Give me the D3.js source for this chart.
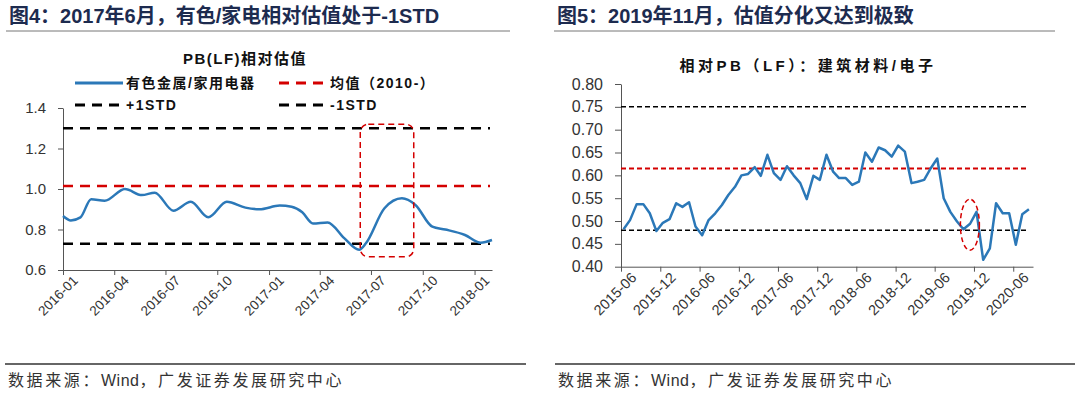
<!DOCTYPE html>
<html lang="zh">
<head>
<meta charset="UTF-8">
<title>相对估值</title>
<script src="https://d3js.org/d3.v7.min.js"></script>
<style>
  body { margin: 0; background: #fff; }
  svg { display: block; font-family: "Liberation Sans", Arial, "Noto Sans CJK SC", sans-serif; }
  .hdr { font-size: 20px; font-weight: bold; fill: #1d2b4f; }
  .foot { font-size: 16px; fill: #333; letter-spacing: 2.6px; font-family: "Noto Sans CJK SC", sans-serif; }
  .foot tspan.en { font-family: "Liberation Sans", Arial, sans-serif; letter-spacing: 0.5px; }
  .ctitle { font-size: 15px; font-weight: bold; fill: #111; }
  .leg { font-size: 14px; font-weight: bold; fill: #111; letter-spacing: 1.5px; }
  .axis path, .axis line { stroke: #555; }
  .axis text { fill: #333; font-family: "Liberation Sans", Arial, sans-serif; }
</style>
</head>
<body>
<svg id="chart" width="1080" height="396"></svg>
<script>
// ---- left chart: 有色金属/家用电器 PB(LF)
const leftDates = ["2016-01-01","2016-01-15","2016-02-01","2016-02-20","2016-03-15","2016-04-20","2016-05-20",
  "2016-06-12","2016-07-15","2016-08-15","2016-09-15","2016-10-18","2016-11-20","2016-12-15","2017-01-20",
  "2017-02-10","2017-03-01","2017-03-20","2017-04-15","2017-05-15","2017-06-10","2017-06-22","2017-07-25",
  "2017-08-25","2017-09-18","2017-10-18","2017-11-10","2017-12-15","2018-01-12","2018-02-01"];
const leftValues = [0.867,0.845,0.86,0.95,0.942,1.0,0.97,
  0.982,0.893,0.937,0.86,0.937,0.908,0.90,0.918,
  0.912,0.885,0.83,0.835,0.756,0.70,0.732,0.905,
  0.954,0.921,0.814,0.80,0.773,0.735,0.748];
const leftTicks = ["2016-01","2016-04","2016-07","2016-10","2017-01","2017-04","2017-07","2017-10","2018-01"];
const leftYTicks = [0.6, 0.8, 1.0, 1.2, 1.4];
const leftMean = 1.015, leftUpper = 1.30, leftLower = 0.73;

// ---- right chart: 建筑材料/电子 相对PB(LF), monthly from 2015-06
const rightStart = "2015-06";
const rightValues = [0.482,0.502,0.537,0.537,0.517,0.478,0.496,0.504,0.539,0.531,0.541,0.488,0.469,
  0.502,0.517,0.535,0.557,0.575,0.60,0.603,0.618,0.599,0.645,0.605,0.59,0.62,0.60,0.583,0.548,
  0.599,0.59,0.645,0.608,0.594,0.594,0.579,0.586,0.65,0.63,0.661,0.655,0.641,0.665,0.652,0.583,
  0.586,0.59,0.615,0.637,0.55,0.52,0.499,0.482,0.494,0.52,0.415,0.44,0.539,0.517,0.517,0.448,
  0.515,0.526];
const rightTicks = ["2015-06","2015-12","2016-06","2016-12","2017-06","2017-12","2018-06","2018-12","2019-06","2019-12","2020-06"];
const rightYTicks = [0.40,0.45,0.50,0.55,0.60,0.65,0.70,0.75,0.80];
const rightMean = 0.615, rightUpper = 0.75, rightLower = 0.48;

const BLUE = "#2b78b8", RED = "#d40000";
const parseDay = d3.timeParse("%Y-%m-%d");
const parseMonth = d3.timeParse("%Y-%m");
const fmtMonth = d3.timeFormat("%Y-%m");

const svg = d3.select("#chart");

// headers and footers
function frame(x0, x1, title, fx0, fx1) {
  svg.append("text").attr("class", "hdr").attr("x", x0 + 3).attr("y", 23).text(title);
  svg.append("line").attr("x1", x0).attr("x2", x1).attr("y1", 31).attr("y2", 31)
    .attr("stroke", "#777").attr("stroke-width", 1);
  svg.append("line").attr("x1", fx0).attr("x2", fx1).attr("y1", 364).attr("y2", 364)
    .attr("stroke", "#333").attr("stroke-width", 1.5);
  const t = svg.append("text").attr("class", "foot").attr("x", fx0 + 3).attr("y", 386);
  t.append("tspan").text("数据来源：");
  t.append("tspan").attr("class", "en").text("Wind");
  t.append("tspan").text("，广发证券发展研究中心");
}
frame(6, 510, "图4：2017年6月，有色/家电相对估值处于-1STD", 5, 526);
frame(554, 1055, "图5：2019年11月，估值分化又达到极致", 555, 1075);

// ---------- left chart ----------
const xL = d3.scaleTime().domain([parseDay("2016-01-01"), parseDay("2018-02-01")]).range([63, 492]);
const yL = d3.scaleLinear().domain([0.6, 1.4]).range([270, 108]);
const gL = svg.append("g");

gL.append("g").attr("class", "axis").attr("transform", "translate(63,0)")
  .call(d3.axisLeft(yL).tickValues(leftYTicks).tickFormat(d3.format(".1f")).tickSize(5).tickSizeOuter(0).tickPadding(12))
  .call(g => g.selectAll("text").style("font-size", "15px"));

gL.append("g").attr("class", "axis").attr("transform", "translate(0,270)")
  .call(d3.axisBottom(xL).tickValues(leftTicks.map(parseMonth)).tickFormat(fmtMonth).tickSize(5).tickSizeOuter(0))
  .call(g => g.selectAll("text").style("font-size", "13.5px")
    .attr("text-anchor", "end").attr("dx", "0.2em").attr("dy", "0.8em")
    .attr("transform", "rotate(-45)"));

[[leftUpper, "#000"], [leftMean, RED], [leftLower, "#000"]].forEach(([v, c]) => {
  gL.append("line").attr("x1", 63).attr("x2", 490).attr("y1", yL(v)).attr("y2", yL(v))
    .attr("stroke", c).attr("stroke-width", 2.5).attr("stroke-dasharray", "10,7");
});

const leftData = leftDates.map((d, i) => ({ date: parseDay(d), value: leftValues[i] }));
gL.append("path").datum(leftData)
  .attr("fill", "none").attr("stroke", BLUE).attr("stroke-width", 2.5)
  .attr("d", d3.line().x(d => xL(d.date)).y(d => yL(d.value)).curve(d3.curveMonotoneX));

// highlight box
const bx0 = xL(parseDay("2017-06-12")), bx1 = xL(parseDay("2017-09-15"));
gL.append("rect").attr("x", bx0).attr("y", yL(1.32)).attr("width", bx1 - bx0).attr("height", yL(0.665) - yL(1.32))
  .attr("rx", 8).attr("fill", "none").attr("stroke", RED).attr("stroke-width", 1.5).attr("stroke-dasharray", "6,4");

gL.append("text").attr("class", "ctitle").attr("x", 245).attr("y", 64).attr("text-anchor", "middle")
  .style("letter-spacing", "1.5px").text("PB(LF)相对估值");

const legItems = [
  { x: 75, y: 83, c: BLUE, dash: null, label: "有色金属/家用电器" },
  { x: 279, y: 83, c: RED, dash: "10,7", label: "均值（2010-）" },
  { x: 75, y: 105, c: "#000", dash: "10,7", label: "+1STD" },
  { x: 279, y: 105, c: "#000", dash: "10,7", label: "-1STD" }
];
legItems.forEach(d => {
  gL.append("line").attr("x1", d.x).attr("x2", d.x + 48).attr("y1", d.y).attr("y2", d.y)
    .attr("stroke", d.c).attr("stroke-width", 3).attr("stroke-dasharray", d.dash);
  gL.append("text").attr("class", "leg").attr("x", d.x + 51).attr("y", d.y + 5).text(d.label);
});

// ---------- right chart ----------
const t0 = parseMonth(rightStart);
const xR = d3.scaleTime().domain([t0, d3.timeMonth.offset(t0, 63)]).range([621, 1033]);
const yR = d3.scaleLinear().domain([0.4, 0.8]).range([266.7, 84]);
const gR = svg.append("g");

gR.append("g").attr("class", "axis").attr("transform", "translate(621,0)")
  .call(d3.axisLeft(yR).tickValues(rightYTicks).tickFormat(d3.format(".2f")).tickSize(6).tickSizeOuter(0).tickPadding(12))
  .call(g => g.selectAll("text").style("font-size", "16px"));

gR.append("g").attr("class", "axis").attr("transform", "translate(0,266.7)")
  .call(d3.axisBottom(xR).tickValues(rightTicks.map(parseMonth)).tickFormat(fmtMonth).tickSize(5).tickSizeOuter(0))
  .call(g => g.selectAll("text").style("font-size", "14.5px")
    .attr("text-anchor", "end").attr("dx", "0.2em").attr("dy", "0.8em")
    .attr("transform", "rotate(-45)"));

[[rightUpper, "#000"], [rightMean, RED], [rightLower, "#000"]].forEach(([v, c]) => {
  gR.append("line").attr("x1", 621).attr("x2", 1028).attr("y1", yR(v)).attr("y2", yR(v))
    .attr("stroke", c).attr("stroke-width", c === RED ? 2 : 1.5).attr("stroke-dasharray", "5,3");
});

const rightData = rightValues.map((v, i) => ({ date: d3.timeDay.offset(d3.timeMonth.offset(t0, i), 12), value: v }));
gR.append("path").datum(rightData)
  .attr("fill", "none").attr("stroke", BLUE).attr("stroke-width", 2.5).attr("stroke-linejoin", "round")
  .attr("d", d3.line().x(d => xR(d.date)).y(d => yR(d.value)));

gR.append("ellipse").attr("cx", xR(parseDay("2019-11-12"))).attr("cy", yR(0.492)).attr("rx", 9.5).attr("ry", 25.5)
  .attr("fill", "none").attr("stroke", RED).attr("stroke-width", 1.5).attr("stroke-dasharray", "5,3");

gR.append("text").attr("class", "ctitle").attr("x", 808).attr("y", 71).attr("text-anchor", "middle")
  .style("letter-spacing", "3.5px").text("相对PB（LF）：建筑材料/电子");
</script>
</body>
</html>
